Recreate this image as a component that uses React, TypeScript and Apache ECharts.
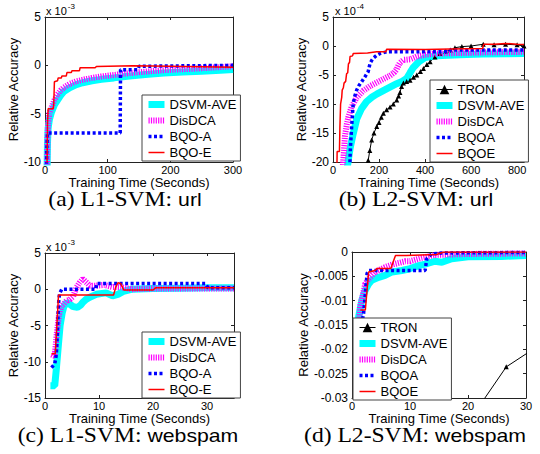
import React, { useEffect, useRef } from 'react';
import * as echarts from 'echarts';

// ---------- (a) L1-SVM: url  (y in 1e-3) ----------
const aDsvm = [[3,-12],[4,-8],[5,-6.5],[7,-5.6],[10,-4.9],[15,-4.1],[20,-3.6],[25,-3.1],[30,-2.7],[40,-2.3],[50,-2.0],[60,-1.8],[75,-1.6],[90,-1.45],[110,-1.3],[135,-1.1],[160,-0.95],[190,-0.8],[220,-0.7],[250,-0.6],[280,-0.5],[300,-0.42]];
const aDisdca = [[3,-12],[4,-7.5],[5,-6],[7,-5],[10,-4.4],[15,-3.6],[20,-3.0],[25,-2.6],[30,-2.3],[40,-1.9],[50,-1.65],[60,-1.5],[75,-1.3],[90,-1.15],[110,-1.0],[135,-0.8],[160,-0.65],[190,-0.5],[220,-0.4],[250,-0.3],[280,-0.18],[300,-0.1]];
const aBqoA = [[2,-12],[3,-8.5],[4,-7],[120,-7],[120.5,-0.45],[148,-0.45],[150,-0.1],[300,0]];
const aBqoE = [[3,-12],[4,-6],[5,-4.5],[13,-4.5],[14,-4],[15,-1.7],[20,-1.6],[21,-1.3],[26,-1.3],[27,-1.1],[34,-1.1],[35,-0.75],[42,-0.75],[43,-0.55],[55,-0.55],[56,-0.25],[80,-0.25],[82,-0.12],[140,-0.05],[200,-0.1],[300,-0.2]];

// ---------- (b) L2-SVM: url  (y in 1e-4) ----------
const bTron = [[148,-21],[153,-19.7],[160,-18],[168,-16.2],[178,-15],[190,-13.9],[200,-13.2],[210,-12.3],[219,-11.6],[233,-11],[248,-10.5],[262,-10],[277,-9.3],[285,-8.6],[291,-8.0],[298,-7.0],[306,-6.4],[320,-6.1],[335,-5.9],[350,-5.4],[364,-5.0],[380,-4.4],[393,-3.9],[408,-3.2],[422,-2.7],[443,-1.9],[465,-1.3],[490,-0.9],[510,-0.7],[530,-0.3],[560,-0.1],[600,0],[653,0.3],[700,0.2],[750,0.3],[800,0.2],[830,0]];
const bDsvm = [[62,-21],[67,-19.5],[75,-17.5],[88,-15.1],[103,-12.6],[124,-10.8],[146,-9.6],[170,-8.8],[190,-8.3],[233,-7.4],[277,-6.5],[300,-6.1],[320,-5.6],[335,-4.6],[349,-3.7],[371,-2.8],[400,-2.0],[450,-1.7],[550,-1.5],[650,-1.4],[750,-1.35],[830,-1.3]];
const bDisdca = [[42,-21],[46,-19],[52,-15.5],[60,-13.5],[67,-12.2],[81,-10.5],[103,-8.9],[132,-7.7],[161,-6.9],[204,-6.0],[248,-5.1],[265,-4.6],[277,-4.0],[285,-3.3],[291,-2.9],[306,-2.4],[335,-2.3],[364,-1.8],[400,-1.5],[451,-1.3],[550,-1.2],[650,-1.1],[830,-1.0]];
const bBqoa = [[73,-21],[75,-18],[78,-16],[81,-13.9],[85,-11.5],[88,-9.9],[95,-8.6],[103,-7.6],[113,-6.8],[124,-6.2],[139,-5.3],[153,-4.4],[158,-3.5],[161,-3.0],[168,-2.5],[175,-2.1],[190,-1.6],[204,-1.3],[233,-1.0],[400,-1.0],[505,-0.95],[510,-0.7],[830,-0.7]];
const bBqoe = [[17,-21],[18,-18.2],[28,-18.2],[30,-14],[33,-10],[38,-8.8],[40,-7.6],[45,-7.2],[48,-6.4],[55,-6.1],[59,-4.8],[64,-4.6],[67,-3.1],[72,-2.8],[74,-1.8],[85,-1.7],[88,-1.3],[150,-1.2],[190,-1.0],[230,-1.0],[233,-0.55],[400,-0.6],[509,-0.5],[650,-0.45],[655,0.3],[700,0.3],[750,0.45],[800,0.3],[830,0.25]];

// ---------- (c) L1-SVM: webspam  (y in 1e-3) ----------
const cDsvm = [[1,-13.3],[1.8,-13.3],[2.1,-11],[2.5,-7.5],[2.8,-5],[3.2,-3.2],[3.5,-2.4],[4,-1.8],[4.5,-2.0],[5.2,-2.4],[6,-2.5],[6.6,-2.2],[7,-1.8],[7.6,-1.4],[8.3,-1.1],[9.5,-0.7],[11.3,-0.5],[12.5,-0.9],[13.5,-0.7],[14.5,-0.3],[16,0],[20,0.1],[25,0.15],[30,0.2],[35,0.2]];
const cDisdca = [[1.2,-9],[1.8,-9.2],[2.2,-6],[2.6,-3.5],[3,-2.4],[3.5,-2.0],[4,-1.6],[4.6,-1.4],[5.2,-1.0],[5.8,0.2],[6.4,0.9],[7,1.4],[7.6,1.0],[8.3,0.5],[9.5,0.5],[11,0.6],[12.5,0.3],[14,0.3],[16,0],[20,0.1],[25,0.1],[30,0.1],[35,0.1]];
const cBqoA = [[1.2,-10.8],[1.8,-10.3],[2.1,-9],[2.3,-6],[2.5,-2],[2.7,-0.6],[3.1,0],[9.4,0],[9.6,0.8],[29.7,0.8],[30.2,0.2],[35,0.2]];
const cBqoE = [[1.2,-8.9],[1.9,-8.9],[2.2,-5],[2.5,-0.8],[12.7,-0.8],[13.1,0.3],[13.5,0.9],[14.0,0.8],[14.6,-0.1],[20,-0.1],[20.5,0.2],[35,0.2]];

// ---------- (d) L2-SVM: webspam ----------
const dTron = [[19.8,-0.0354],[26.6,-0.0236],[33,-0.0186]];
const dDsvm = [[1,-0.016],[1.15,-0.0133],[1.7,-0.0099],[2.3,-0.0078],[2.9,-0.0065],[3.4,-0.0058],[4.6,-0.0052],[5.7,-0.0048],[6.9,-0.0041],[8.6,-0.0038],[9.8,-0.0035],[11.5,-0.0028],[12.6,-0.0025],[14.3,-0.0019],[15.5,-0.0021],[17.2,-0.0014],[20,-0.001],[25.8,-0.0009],[30,-0.0007]];
const dDisdca = [[1.2,-0.015],[1.4,-0.0113],[2.3,-0.0065],[2.9,-0.0055],[4,-0.0041],[5.7,-0.0031],[6.9,-0.0026],[9.2,-0.0019],[10,-0.0019],[12,-0.0012],[14.3,-0.0006],[20,-0.0004],[30,-0.0003]];
const dBqoa = [[1.5,-0.016],[2.0,-0.0126],[2.3,-0.0085],[2.6,-0.0044],[2.9,-0.0038],[12.6,-0.0038],[12.9,-0.0014],[13.7,-0.0004],[15.5,-0.0002],[30,-0.0001]];
const dBqoe = [[1.43,-0.0119],[2.3,-0.0119],[2.87,-0.0041],[4.0,-0.0038],[4.3,-0.0034],[6.7,-0.0034],[7.2,-0.0017],[7.5,-0.0007],[9.3,-0.0007],[14.6,-0.0005],[15.8,0],[30,0]];

// axis ranges per panel: [min, max, interval]
const xRanges = [[0, 300, 100], [0, 830, 200], [0, 35, 10], [0, 30, 10]];
const yRanges = [[-10, 5, 5], [-20, 5, 5], [-15, 5, 5], [-0.03, 0, 0.005]];
const legendA = ['DSVM-AVE', 'DisDCA', 'BQO-A', 'BQO-E'];
const legendB = ['TRON', 'DSVM-AVE', 'DisDCA', 'BQOA', 'BQOE'];
const titles = [
  ['(a) L1-SVM: ', 'url'],
  ['(b) L2-SVM: ', 'url'],
  ['(c) L1-SVM: ', 'webspam'],
  ['(d) L2-SVM: ', 'webspam'],
];
const exponents = ['-3', '-4', '-3'];

const SANS = "'Liberation Sans', Arial, Helvetica, sans-serif";
const SERIF = "'Liberation Serif', 'Times New Roman', serif";

const STYLES: Record<string, any> = {
  TRON: { color: '#000000', width: 1, symbol: 'triangle', size: 5 },
  'DSVM-AVE': { color: '#00FFFF', width: 7 },
  DisDCA: { color: '#FF00FF', width: 6, type: [1.2, 1.2] },
  'BQO-A': { color: '#0000FF', width: 3.5, type: [3, 2.5] },
  BQOA: { color: '#0000FF', width: 3.5, type: [3, 2.5] },
  'BQO-E': { color: '#FF0000', width: 1.5 },
  BQOE: { color: '#FF0000', width: 1.5 },
};

export default function App() {
  const ref = useRef<HTMLDivElement>(null);
  useEffect(() => {
    const chart = echarts.init(ref.current!, null, { renderer: 'svg' });

    const grids = [
      { left: 45, top: 17, width: 188, height: 145 },
      { left: 333, top: 17, width: 191, height: 145 },
      { left: 45, top: 253, width: 189, height: 145 },
      { left: 352, top: 252, width: 174, height: 146 },
    ];
    const yNameGap = [23, 23, 23, 38];

    const xAxis: any[] = [];
    const yAxis: any[] = [];
    grids.forEach((g, i) => {
      const [xmin, xmax, xint] = xRanges[i];
      const [ymin, ymax, yint] = yRanges[i];
      const common = {
        type: 'value', gridIndex: i, splitLine: { show: false },
        axisLine: { show: true, onZero: false, lineStyle: { color: '#222', width: 1 } },
        axisTick: { show: true, inside: true, length: 3, lineStyle: { color: '#222' } },
      };
      xAxis.push({
        ...common, position: 'bottom', min: xmin, max: xmax, interval: xint,
        name: 'Training Time (Seconds)', nameLocation: 'middle', nameGap: 12,
        nameTextStyle: { fontFamily: SANS, fontSize: 13, color: '#000' },
        axisLabel: { fontFamily: SANS, fontSize: 11, color: '#000', margin: 2, showMaxLabel: xmax % xint === 0 },
      });
      xAxis.push({ ...common, position: 'top', min: xmin, max: xmax, interval: xint, axisLabel: { show: false } });
      yAxis.push({
        ...common, position: 'left', min: ymin, max: ymax, interval: yint,
        name: 'Relative Accuracy', nameLocation: 'middle', nameGap: yNameGap[i],
        nameTextStyle: { fontFamily: SANS, fontSize: 13, color: '#000' },
        axisLabel: {
          fontFamily: SANS, fontSize: 12, color: '#000', margin: 4,
          formatter: (v: number) => (v === 0 ? '0' : String(+v.toFixed(4))),
        },
      });
      yAxis.push({ ...common, position: 'right', min: ymin, max: ymax, interval: yint, axisLabel: { show: false } });
    });

    const mk = (name: string, data: number[][], i: number, z: number) => {
      const s = STYLES[name];
      return {
        type: 'line', name, data, xAxisIndex: 2 * i, yAxisIndex: 2 * i,
        symbol: s.symbol || 'none', symbolSize: s.size || 0, showSymbol: !!s.symbol,
        itemStyle: { color: s.color }, z,
        lineStyle: { color: s.color, width: s.width, type: s.type || 'solid' },
        clip: true, silent: true,
      };
    };

    const series = [
      mk('DSVM-AVE', aDsvm, 0, 2), mk('DisDCA', aDisdca, 0, 3), mk('BQO-A', aBqoA, 0, 4), mk('BQO-E', aBqoE, 0, 5),
      mk('TRON', bTron, 1, 2), mk('DSVM-AVE', bDsvm, 1, 2), mk('DisDCA', bDisdca, 1, 3), mk('BQOA', bBqoa, 1, 4), mk('BQOE', bBqoe, 1, 5),
      mk('DSVM-AVE', cDsvm, 2, 2), mk('DisDCA', cDisdca, 2, 3), mk('BQO-A', cBqoA, 2, 4), mk('BQO-E', cBqoE, 2, 5),
      mk('TRON', dTron, 3, 2), mk('DSVM-AVE', dDsvm, 3, 2), mk('DisDCA', dDisdca, 3, 3), mk('BQOA', dBqoa, 3, 4), mk('BQOE', dBqoe, 3, 5),
    ];

    const legendItems = (names: string[]) =>
      names.map((n) => (STYLES[n].symbol ? { name: n } : { name: n, itemStyle: { opacity: 0 } }));

    const legendCommon = {
      orient: 'vertical', backgroundColor: '#fff', borderColor: '#444', borderWidth: 1, borderRadius: 0,
      padding: [3, 4, 2, 3], itemGap: 3, itemWidth: 16, itemHeight: 12, z: 10,
      selectedMode: false,
      textStyle: { fontFamily: SANS, fontSize: 13, color: '#000' },
      lineStyle: { width: 'inherit' },
    };
    const legend = [
      { ...legendCommon, data: legendItems(legendA), left: 142, top: 95 },
      { ...legendCommon, data: legendItems(legendB), left: 430, top: 80 },
      { ...legendCommon, data: legendItems(legendA), left: 142, top: 332 },
      { ...legendCommon, data: legendItems(legendB), left: 353, top: 318 },
    ];

    const titlePos = [[125, 200], [416, 200], [128, 436], [415, 436]];
    const expPos = [[46, 11], [335, 11], [46, 247]];
    const graphic: any[] = [];
    titles.forEach((t, i) => {
      graphic.push({
        type: 'text', x: titlePos[i][0], y: titlePos[i][1], scaleX: 1.18,
        style: {
          text: `{s|${t[0]}}{u|${t[1]}}`, align: 'center', verticalAlign: 'middle',
          rich: {
            s: { fontFamily: SERIF, fontSize: 20, fill: '#000' },
            u: { fontFamily: SANS, fontSize: 18, fill: '#000' },
          },
        },
      });
    });
    expPos.forEach((p, i) => {
      graphic.push({
        type: 'text', x: p[0], y: p[1],
        style: {
          text: `{b|x 10}{e|${exponents[i]}}`, align: 'left', verticalAlign: 'middle',
          rich: {
            b: { fontFamily: SANS, fontSize: 11, fill: '#000' },
            e: { fontFamily: SANS, fontSize: 8, fill: '#000', padding: [0, 0, 9, 1] },
          },
        },
      });
    });

    chart.setOption({
      animation: false,
      backgroundColor: '#fff',
      grid: grids,
      xAxis, yAxis, series, legend, graphic,
    });
    return () => chart.dispose();
  }, []);
  return <div ref={ref} style={{ width: 540, height: 454, position: 'absolute', left: 0, top: 0 }} />;
}
